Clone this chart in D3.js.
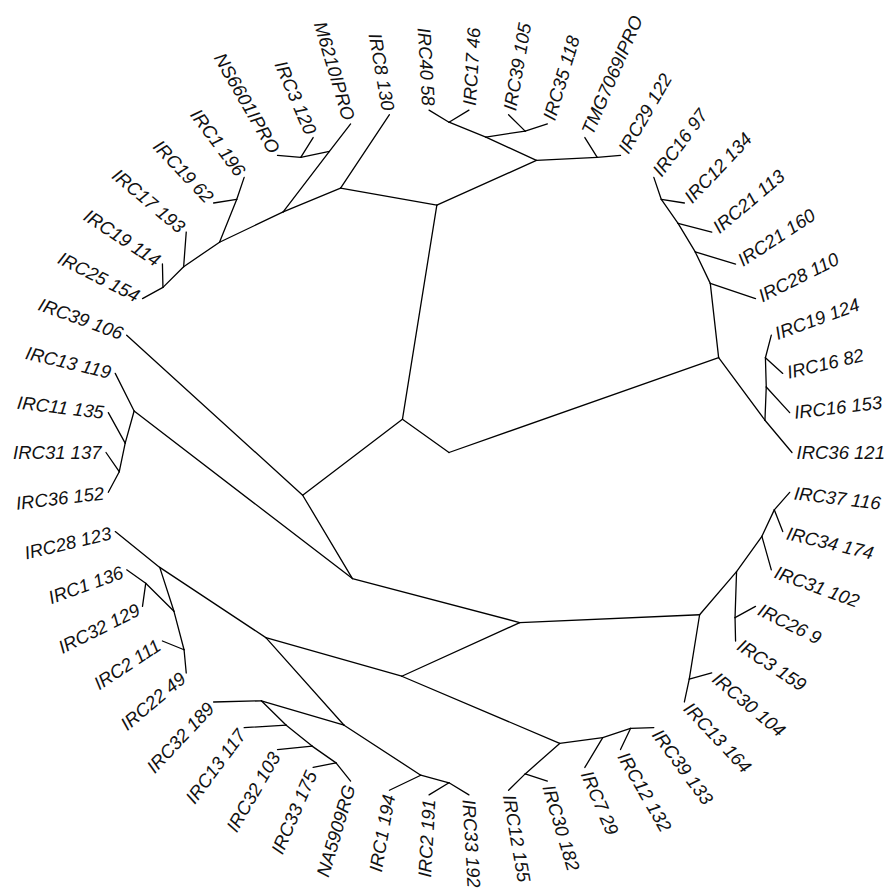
<!DOCTYPE html>
<html><head><meta charset="utf-8">
<script src="https://cdn.jsdelivr.net/npm/d3@7"></script>
<style>html,body{margin:0;padding:0;background:#fff}</style>
</head><body>
<svg id="chart" width="890" height="894"></svg>
<script>
// Tip labels, in counter-clockwise order starting at the 3 o'clock position
const tipLabels = [
  "IRC36 121","IRC16 153","IRC16 82","IRC19 124","IRC28 110","IRC21 160","IRC21 113","IRC12 134","IRC16 97",
  "IRC29 122","TMG7069IPRO","IRC35 118","IRC39 105","IRC17 46","IRC40 58","IRC8 130","M6210IPRO","IRC3 120",
  "NS6601IPRO","IRC1 196","IRC19 62","IRC17 193","IRC19 114","IRC25 154","IRC39 106","IRC13 119","IRC11 135",
  "IRC31 137","IRC36 152","IRC28 123","IRC1 136","IRC32 129","IRC2 111","IRC22 49","IRC32 189","IRC13 117",
  "IRC32 103","IRC33 175","NA5909RG","IRC1 194","IRC2 191","IRC33 192","IRC12 155","IRC30 182","IRC7 29",
  "IRC12 132","IRC39 133","IRC13 164","IRC30 104","IRC3 159","IRC26 9","IRC31 102","IRC34 174","IRC37 116"
];
// Tree topology (nested pairs of tip indices)
const cladeU = [[0,[1,[2,3]]],[4,[5,[6,[7,8]]]]];
const cladeG = [[[9,10],[[11,12],[13,14]]],[15,[[16,[17,18]],[[19,20],[21,[22,23]]]]]];
const cladeF = [[29,[[30,31],[32,33]]],[[34,[35,[36,[37,38]]]],[39,[40,41]]]];
const cladeAJ = [[42,43],[44,[45,46]]];
const cladeAD = [[47,48],[[49,50],[51,[52,53]]]];
const cladeB = [24,[[25,[26,[27,28]]],[[cladeF,cladeAJ],cladeAD]]];
const topology = [cladeU,[cladeG,cladeB]];

const width = 890, height = 894;
const cx = 449, cy = 452.5, R = 343, gap = 4.5, fontSize = 18.5;
const N = tipLabels.length;

const svg = d3.select("#chart");
svg.append("rect").attr("width", width).attr("height", height).attr("fill", "#fff");

const root = d3.hierarchy(topology, d => Array.isArray(d) ? d : null);
root.count();

const angleScale = d3.scaleLinear().domain([0, N]).range([0, 360]);
const radiusScale = d3.scaleLinear().domain([0, 1]).range([0, R]);

root.eachAfter(node => {
  if (!node.children) { node.ang = angleScale(node.data); node.rad = 1; }
  else { node.ang = d3.mean(node.children, c => c.ang); node.rad = 1 - node.value / N; }
});
function pos(node, extra = 0) {
  const a = node.ang * Math.PI / 180, r = radiusScale(node.rad) + extra;
  return [cx + r * Math.cos(a), cy - r * Math.sin(a)];
}

svg.append("g")
  .selectAll("line")
  .data(root.links())
  .join("line")
  .attr("x1", d => pos(d.source)[0]).attr("y1", d => pos(d.source)[1])
  .attr("x2", d => pos(d.target)[0]).attr("y2", d => pos(d.target)[1])
  .attr("stroke", "#000").attr("stroke-width", 1.3).attr("stroke-linecap", "round");

svg.append("g")
  .selectAll("text")
  .data(root.leaves())
  .join("text")
  .attr("transform", d => {
    const [x, y] = pos(d, gap);
    const flip = d.ang > 90 && d.ang < 270;
    return `translate(${x},${y}) rotate(${flip ? 180 - d.ang : -d.ang})`;
  })
  .attr("text-anchor", d => (d.ang > 90 && d.ang < 270) ? "end" : "start")
  .attr("dy", "0.36em")
  .attr("font-family", "'Liberation Sans', Arial, sans-serif")
  .attr("font-style", "italic")
  .attr("font-size", fontSize)
  .attr("fill", "#111")
  .text(d => tipLabels[d.data]);
</script>
</body></html>
